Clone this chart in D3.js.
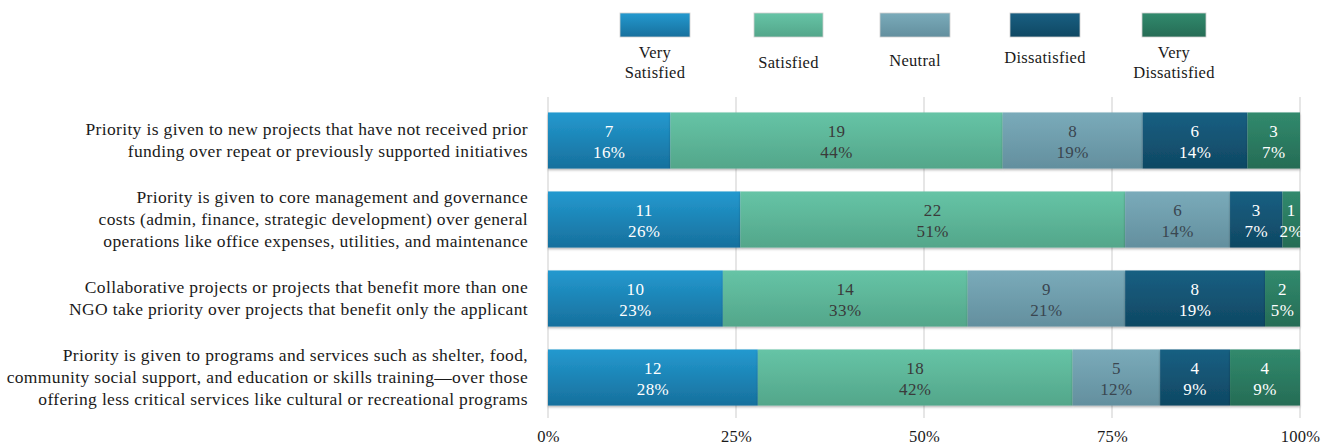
<!DOCTYPE html>
<html>
<head>
<meta charset="utf-8">
<script src="https://cdn.jsdelivr.net/npm/d3@7"></script>
<style>
  html, body { margin: 0; padding: 0; background: #ffffff; }
  svg { display: block; }
  text { font-family: "Liberation Serif", "DejaVu Serif", serif; }
</style>
</head>
<body>
<svg id="chart" width="1323" height="447"></svg>
<script>
// Survey statements (each row is wrapped into lines)
const categories = [
  ["Priority is given to new projects that have not received prior",
   "funding over repeat or previously supported initiatives"],
  ["Priority is given to core management and governance",
   "costs (admin, finance, strategic development) over general",
   "operations like office expenses, utilities, and maintenance"],
  ["Collaborative projects or projects that benefit more than one",
   "NGO take priority over projects that benefit only the applicant"],
  ["Priority is given to programs and services such as shelter, food,",
   "community social support, and education or skills training\u2014over those",
   "offering less critical services like cultural or recreational programs"]
];

// Response levels
const seriesNames = ["Very Satisfied", "Satisfied", "Neutral", "Dissatisfied", "Very Dissatisfied"];
const legendLines = [["Very", "Satisfied"], ["Satisfied"], ["Neutral"], ["Dissatisfied"], ["Very", "Dissatisfied"]];

// Number of respondents per level, one array per level, in row order
const verySatisfied    = [7, 11, 10, 12];
const satisfied        = [19, 22, 14, 18];
const neutral          = [8, 6, 9, 5];
const dissatisfied     = [6, 3, 8, 4];
const veryDissatisfied = [3, 1, 2, 4];

const tickValues = [0, 0.25, 0.5, 0.75, 1];

const seriesValues = [verySatisfied, satisfied, neutral, dissatisfied, veryDissatisfied];
const colorsTop    = ["#2399cf", "#66c4a6", "#7aabba", "#195f82", "#318a6d"];
const colorsBottom = ["#17709d", "#53a68a", "#638f9e", "#0f4863", "#266c55"];
const labelColors  = ["#ffffff", "#3a3a3a", "#3a4650", "#ffffff", "#ffffff"];

const svg = d3.select("#chart");

const x = d3.scaleLinear().domain([0, 1]).range([548, 1300]);
const y = d3.scaleBand().domain(d3.range(categories.length)).range([101, 417])
  .paddingInner(0.29).paddingOuter(0.145);

const defs = svg.append("defs");
seriesNames.forEach((s, i) => {
  const g = defs.append("linearGradient").attr("id", "grad" + i)
    .attr("x1", 0).attr("y1", 0).attr("x2", 0).attr("y2", 1);
  g.append("stop").attr("offset", "0%").attr("stop-color", colorsTop[i]);
  g.append("stop").attr("offset", "100%").attr("stop-color", colorsBottom[i]);
});
const shadow = defs.append("filter").attr("id", "shadow")
  .attr("x", "-5%").attr("y", "-10%").attr("width", "110%").attr("height", "130%");
shadow.append("feDropShadow").attr("dx", 0).attr("dy", 1.5)
  .attr("stdDeviation", 1.2).attr("flood-color", "#000").attr("flood-opacity", 0.3);

// Gridlines
const grid = svg.append("g");
grid.selectAll("line").data(tickValues).join("line")
  .attr("x1", d => x(d)).attr("x2", d => x(d))
  .attr("y1", 97).attr("y2", 418)
  .attr("stroke", "#d9d9d9").attr("stroke-width", 1.3);

// Stack the rows and normalize each to 100%
const rows = categories.map((c, r) => {
  const obj = { row: r };
  seriesNames.forEach((s, i) => obj[s] = seriesValues[i][r]);
  return obj;
});
const stacked = d3.stack().keys(seriesNames).offset(d3.stackOffsetExpand)(rows);

const layers = svg.append("g").selectAll("g").data(stacked).join("g")
  .attr("fill", (d, i) => "url(#grad" + i + ")");
layers.selectAll("rect").data(d => d).join("rect")
  .attr("x", d => x(d[0]))
  .attr("width", d => x(d[1]) - x(d[0]))
  .attr("y", d => y(d.data.row))
  .attr("height", y.bandwidth())
  .attr("filter", "url(#shadow)");

// Value labels: count and share
stacked.forEach((layer, i) => {
  const g = svg.append("g").attr("fill", labelColors[i])
    .attr("font-size", 17).attr("letter-spacing", 0.4).attr("text-anchor", "middle");
  layer.forEach(d => {
    const cx = (x(d[0]) + x(d[1])) / 2;
    const cy = y(d.data.row) + y.bandwidth() / 2;
    const count = d.data[layer.key];
    const pct = Math.round((d[1] - d[0]) * 100) + "%";
    const t = g.append("text").attr("x", cx);
    t.append("tspan").attr("x", cx).attr("y", cy - 4).text(count);
    t.append("tspan").attr("x", cx).attr("y", cy + 17.5).text(pct);
  });
});

// Category labels
const catG = svg.append("g").attr("font-size", 17.5).attr("letter-spacing", 0.35)
  .attr("fill", "#1a1a1a").attr("text-anchor", "end");
categories.forEach((lines, r) => {
  const cy = y(r) + y.bandwidth() / 2;
  const lh = 21.7;
  const first = cy - (lines.length - 1) * lh / 2 + 5.5;
  const t = catG.append("text");
  lines.forEach((ln, k) => {
    t.append("tspan").attr("x", 528).attr("y", first + k * lh).text(ln);
  });
});

// Bottom axis
const axis = d3.axisBottom(x).tickValues(tickValues).tickSize(0)
  .tickFormat(d3.format(".0%"));
const ax = svg.append("g").attr("transform", "translate(0,424)").call(axis);
ax.select(".domain").remove();
ax.selectAll("text").attr("font-family", "Liberation Serif, serif")
  .attr("font-size", 16.5).attr("letter-spacing", 0.3)
  .attr("fill", "#1a1a1a").attr("dy", "0.9em");

// Legend
const legendX = [620, 754, 880, 1010, 1142];
const legendW = [70, 69, 70, 70, 64];
const legendTextY = [[53, 73], [63], [61], [58], [53, 73]];
const leg = svg.append("g");
seriesNames.forEach((s, i) => {
  leg.append("rect").attr("x", legendX[i]).attr("y", 13)
    .attr("width", legendW[i]).attr("height", 24)
    .attr("fill", "url(#grad" + i + ")")
    .attr("stroke", "#cfcfcf").attr("stroke-width", 0.8);
  const cx = legendX[i] + legendW[i] / 2;
  const t = leg.append("text").attr("font-size", 16.5).attr("letter-spacing", 0.3)
    .attr("fill", "#1a1a1a").attr("text-anchor", "middle");
  legendLines[i].forEach((ln, k) => {
    t.append("tspan").attr("x", cx).attr("y", legendTextY[i][k] + 5).text(ln);
  });
});
</script>
</body>
</html>
